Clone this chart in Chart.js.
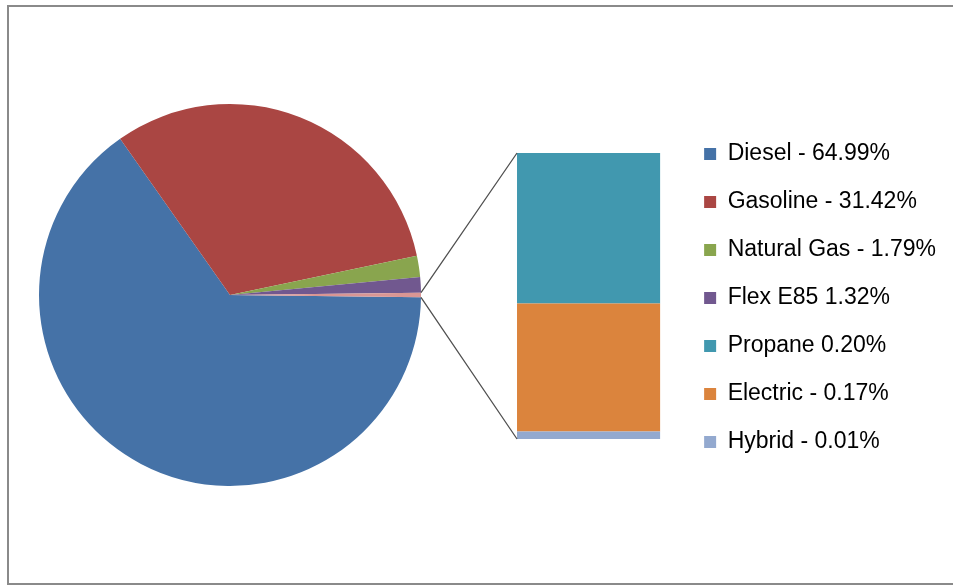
<!DOCTYPE html>
<html>
<head>
<meta charset="utf-8">
<script src="https://cdn.jsdelivr.net/npm/chart.js@4.4.1/dist/chart.umd.min.js"></script>
<style>
  html, body { margin: 0; padding: 0; background: #fff; overflow: hidden; }
  #wrap { position: relative; width: 953px; height: 586px; overflow: hidden; }
  #frame { position: absolute; left: 7px; top: 5px; width: 1000px; height: 580px;
           box-sizing: border-box; border: 2px solid #8a8a8a; }
  canvas { position: absolute; left: 0; top: 0; }
</style>
</head>
<body>
<div id="wrap">
  <div id="frame"></div>
  <canvas id="pie" width="953" height="586"></canvas>
  <canvas id="bar" width="953" height="586"></canvas>
</div>
<script>
// main pie: the last slice is the "Other" group split out in the bar
const pieLabels = ['Diesel', 'Gasoline', 'Natural Gas', 'Flex E85', 'Other'];
const pieValues = [64.99, 31.42, 1.79, 1.32, 0.38];
const pieColors = ['#4572A7', '#AA4643', '#89A54E', '#71588F', '#D99694'];

// secondary bar, bottom to top
const barLabels = ['Hybrid', 'Electric', 'Propane'];
const barValues = [0.01, 0.17, 0.20];
const barColors = ['#93A9CF', '#DB843D', '#4198AF'];

const legendTexts = ['Diesel - 64.99%', 'Gasoline - 31.42%', 'Natural Gas - 1.79%', 'Flex E85 1.32%',
  'Propane 0.20%', 'Electric - 0.17%', 'Hybrid - 0.01%'];
const legendColors = ['#4572A7', '#AA4643', '#89A54E', '#71588F', '#4198AF', '#DB843D', '#93A9CF'];

Chart.defaults.font.family = '"Liberation Sans", Arial, sans-serif';
Chart.defaults.animation = false;

// turn the pie so the "Other" slice is centred on 3 o'clock
let total = 0;
for (let i = 0; i < pieValues.length; i++) total += pieValues[i];
const otherDeg = pieValues[pieValues.length - 1] / total * 360;

const pieChart = new Chart(document.getElementById('pie').getContext('2d'), {
  type: 'pie',
  data: {
    labels: pieLabels,
    datasets: [{ data: pieValues, backgroundColor: pieColors, borderWidth: 0 }]
  },
  options: {
    responsive: false,
    events: [],
    rotation: 90 + otherDeg / 2,
    layout: { padding: { left: 39, right: 532, top: 104, bottom: 100 } },
    plugins: { legend: { display: false }, tooltip: { enabled: false } }
  }
});

// where the bar sits inside the plot area (px)
const areaTop = 10, areaBottom = 586, barTop = 153, barBottom = 439;
let barSum = 0;
for (let i = 0; i < barValues.length; i++) barSum += barValues[i];
const areaH = areaBottom - areaTop;
const yRange = barSum / ((barBottom - barTop) / areaH);
const yMin = -((areaBottom - barBottom) / areaH) * yRange;

const connectors = {
  id: 'connectors',
  afterDatasetsDraw(chart) {
    const arc = pieChart.getDatasetMeta(0).data[pieValues.length - 1];
    const p = arc.getProps(['x', 'y', 'startAngle', 'endAngle', 'outerRadius'], true);
    const topBar = chart.getDatasetMeta(barValues.length - 1).data[0];
    const lowBar = chart.getDatasetMeta(0).data[0];
    const left = topBar.x - topBar.width / 2;
    const ctx = chart.ctx;
    ctx.save();
    ctx.strokeStyle = '#505050';
    ctx.lineWidth = 1.3;
    ctx.beginPath();
    ctx.moveTo(p.x + p.outerRadius * Math.cos(p.startAngle), p.y + p.outerRadius * Math.sin(p.startAngle));
    ctx.lineTo(left, topBar.y);
    ctx.moveTo(p.x + p.outerRadius * Math.cos(p.endAngle), p.y + p.outerRadius * Math.sin(p.endAngle));
    ctx.lineTo(left, lowBar.base);
    ctx.stroke();
    ctx.restore();
  }
};

let barSets = [];
for (let i = 0; i < barValues.length; i++) {
  barSets.push({
    label: barLabels[i],
    data: [barValues[i]],
    backgroundColor: barColors[i],
    borderWidth: 0,
    barPercentage: 0.79,
    categoryPercentage: 1
  });
}

new Chart(document.getElementById('bar').getContext('2d'), {
  type: 'bar',
  data: { labels: ['Other'], datasets: barSets },
  options: {
    responsive: false,
    events: [],
    layout: { padding: { left: 498, right: 7, top: areaTop, bottom: 0 } },
    scales: {
      x: { stacked: true, display: false },
      y: { stacked: true, display: false, min: yMin, max: yMin + yRange }
    },
    plugins: {
      tooltip: { enabled: false },
      legend: {
        position: 'right',
        maxWidth: 300,
        labels: {
          boxWidth: 12,
          boxHeight: 12,
          padding: 25,
          color: '#1e1e1e',
          font: { size: 23 },
          generateLabels: () => legendTexts.map((t, i) => ({
            text: t, fillStyle: legendColors[i], strokeStyle: legendColors[i], lineWidth: 0, hidden: false
          }))
        }
      }
    }
  },
  plugins: [connectors]
});
</script>
</body>
</html>
